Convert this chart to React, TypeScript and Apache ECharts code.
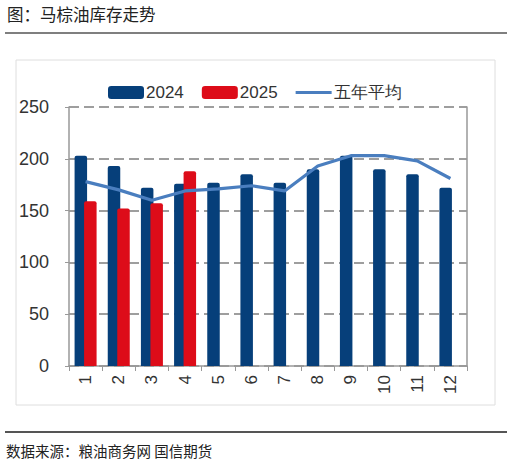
import React, { useEffect, useRef } from "react";
import * as echarts from "echarts";

const months = ["1", "2", "3", "4", "5", "6", "7", "8", "9", "10", "11", "12"];
const inv2024 = [203, 193, 172, 176, 177, 185, 177, 190, 203, 190, 185, 172];
const inv2025 = [159, 152, 157, 188, null, null, null, null, null, null, null, null];
const avg5y = [178, 170, 160, 169, 171, 174, 169, 193, 203, 203, 198, 181];
const yTicks = { min: 0, max: 250, interval: 50 };

const titleText = "图：马棕油库存走势";
const sourceText = "数据来源：粮油商务网 国信期货";

export default function App() {
  const ref = useRef<HTMLDivElement>(null);
  useEffect(() => {
    if (!ref.current) return;
    const chart = echarts.init(ref.current, null, { renderer: "svg" });
    const font = "'Liberation Sans', Arial, sans-serif";
    const cjk = "'Noto Sans CJK SC', sans-serif";
    chart.setOption({
      animation: false,
      backgroundColor: "#ffffff",
      textStyle: { fontFamily: font },
      graphic: [
        { type: "text", left: 7, top: 6, style: { text: titleText, fontSize: 16.5, fontFamily: cjk, fill: "#222" } },
        { type: "line", shape: { x1: 5, y1: 33, x2: 507, y2: 33 }, style: { stroke: "#555", lineWidth: 1.5 } },
        { type: "rect", shape: { x: 16, y: 60, width: 479, height: 345 }, style: { fill: "none", stroke: "#dedede", lineWidth: 1 }, z: -1 },
        { type: "line", shape: { x1: 5, y1: 432, x2: 507, y2: 432 }, style: { stroke: "#555", lineWidth: 2 } },
        { type: "text", left: 6, top: 443, style: { text: sourceText, fontSize: 14.5, fontFamily: cjk, fill: "#222" } },
      ],
      legend: {
        top: 79,
        left: 103,
        itemWidth: 36,
        itemHeight: 13,
        itemGap: 18,
        textStyle: { fontSize: 17, color: "#333", fontFamily: font, padding: [0, 0, 0, -3] },
        data: [
          { name: "2024", icon: "roundRect" },
          { name: "2025", icon: "roundRect" },
          { name: "五年平均", icon: "path://M0,0 L36,0 L36,3.2 L0,3.2 Z" },
        ],
      },
      grid: { left: 69, right: 45, top: 107, bottom: 99, containLabel: false },
      xAxis: {
        type: "category",
        data: months,
        axisLine: { lineStyle: { color: "#999", width: 1.5 } },
        axisTick: { show: true, length: 5, lineStyle: { color: "#999" } },
        axisLabel: { rotate: 90, fontSize: 17, color: "#333", margin: 9, interval: 0 },
      },
      yAxis: [
        {
          type: "value",
          ...yTicks,
          axisLine: { show: true, lineStyle: { color: "#999", width: 1.5 } },
          axisTick: { show: true, length: 4, lineStyle: { color: "#999" } },
          axisLabel: { fontSize: 18, color: "#333", margin: 20 },
          splitLine: { show: true, lineStyle: { color: "#7f7f7f", width: 1.5, type: [10, 5] } },
        },
        {
          type: "value",
          ...yTicks,
          position: "right",
          axisLine: { show: true, lineStyle: { color: "#999", width: 1.5 } },
          axisTick: { show: false },
          axisLabel: { show: false },
          splitLine: { show: false },
        },
      ],
      series: [
        {
          name: "2024",
          type: "bar",
          data: inv2024,
          barWidth: 12.5,
          barGap: "-24%",
          itemStyle: { color: "#063f7a", borderRadius: [2, 2, 0, 0] },
        },
        {
          name: "2025",
          type: "bar",
          data: inv2025,
          barWidth: 12.5,
          barGap: "-24%",
          itemStyle: { color: "#dd0c19", borderRadius: [2, 2, 0, 0] },
        },
        {
          name: "五年平均",
          type: "line",
          data: avg5y,
          symbol: "none",
          lineStyle: { color: "#4a7ebf", width: 3.2 },
          itemStyle: { color: "#4a7ebf" },
          z: 5,
        },
      ],
    });
    return () => chart.dispose();
  }, []);
  return <div ref={ref} style={{ position: "absolute", left: 0, top: 0, width: 512, height: 465 }} />;
}
